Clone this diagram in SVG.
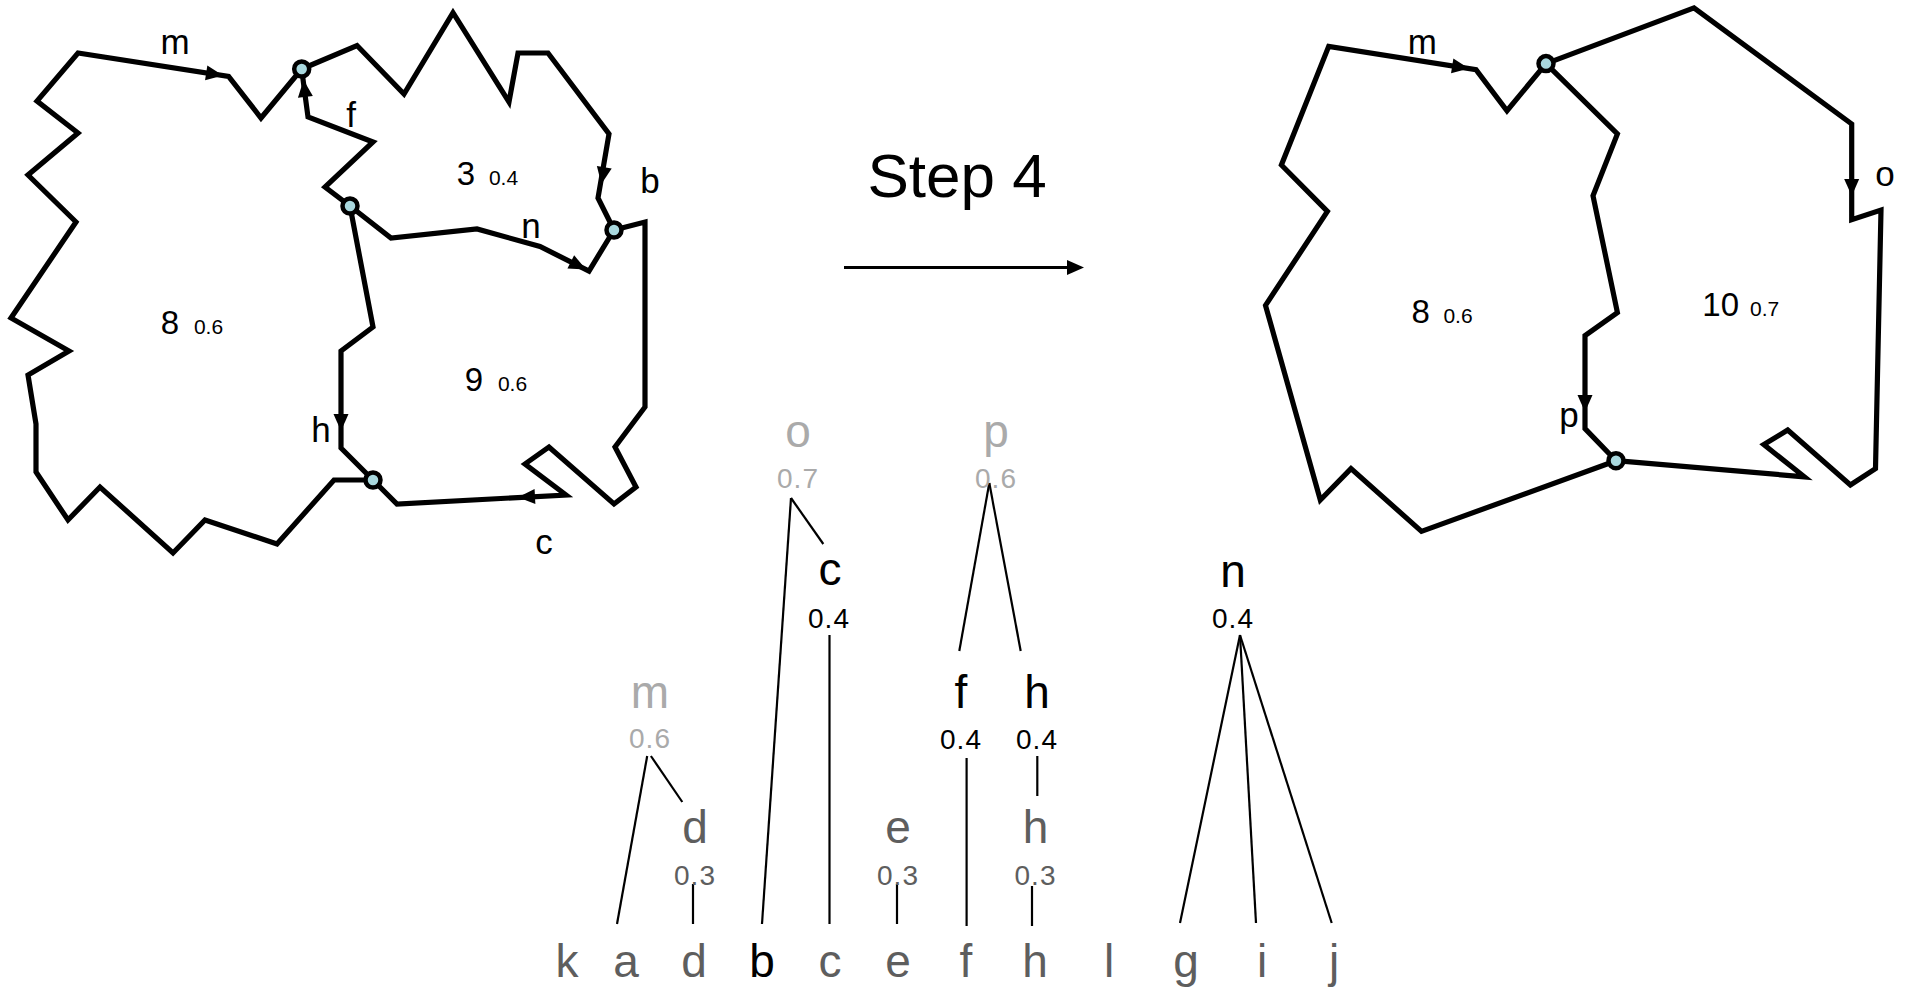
<svg xmlns="http://www.w3.org/2000/svg" xmlns:xlink="http://www.w3.org/1999/xlink" width="1907" height="990" viewBox="0 0 1907 990">
  <style>
    .edge { fill: none; stroke: #000; stroke-width: 5.2; stroke-linejoin: miter; stroke-miterlimit: 6; }
    .vtx { fill: #a9d8de; stroke: #000; stroke-width: 4.5; }
    .lbl { font-family: "Liberation Sans", Arial, sans-serif; fill: #000; text-anchor: middle; }
    .big { font-size: 33px; }
    .small { font-size: 21px; }
    .elbl { font-size: 35px; }
    .tree { stroke: #000; stroke-width: 2.2; fill: none; }
    .tl { font-family: "Liberation Sans", Arial, sans-serif; font-size: 46px; text-anchor: middle; }
    .tn { font-family: "Liberation Sans", Arial, sans-serif; font-size: 28px; text-anchor: middle; letter-spacing: 1px; }
    .faint { fill: #aaaaaa; }
    .mid { fill: #5e5e5e; }
    .dark { fill: #000; }
  </style>
  <defs>
    <path id="ah" d="M0,0 L-17,-7.5 L-17,7.5 Z" fill="#000"/>
  </defs>
  <rect width="1907" height="990" fill="#fff"/>

  <!-- Figure before the step: regions 8, 3 and 9 -->
  <g id="before">
    <g id="before-edges">
      <polyline class="edge" points="373,480 334,480 277,544 205,520 173,553 100,487 68,520 36,472 36,424 28,375 69,351 11,318 76,222 28,175 78,133 37,101 78,53 228.6,76.4 261,118 301.7,69"/>
      <polyline class="edge" points="301.7,69 357,45.5 404,94 453,12.7 509,102 518,53 548,53 609,134 598,198 614,230"/>
      <polyline class="edge" points="614,230 645,222 645,407 615,447 636,487 614,504 549,447 525,464 566,495 397,504 373,480"/>
      <polyline class="edge" points="373,480 341,448 341,351 373,327 350,206"/>
      <polyline class="edge" points="350,206 325,187 373,142 308,117 304,87 301.7,69"/>
      <polyline class="edge" points="350,206 391,238 477,229 540,246.5 589,271 614,230"/>
      <use href="#ah" transform="translate(223,75.5) rotate(8.8)"/>
      <use href="#ah" transform="translate(303.6,80) rotate(-96)"/>
      <use href="#ah" transform="translate(601.4,184) rotate(99.8)"/>
      <use href="#ah" transform="translate(586,269.5) rotate(26.6)"/>
      <use href="#ah" transform="translate(518,497.3) rotate(177)"/>
      <use href="#ah" transform="translate(341,431) rotate(90)"/>
    </g>
    <g id="before-vertices">
      <circle class="vtx" cx="301.7" cy="69" r="7.5"/>
      <circle class="vtx" cx="614" cy="230" r="7.5"/>
      <circle class="vtx" cx="350" cy="206" r="7.5"/>
      <circle class="vtx" cx="373" cy="480" r="7.5"/>
    </g>
    <g id="before-labels">
      <text class="lbl elbl" x="175" y="54">m</text>
      <text class="lbl elbl" x="351" y="127">f</text>
      <text class="lbl elbl" x="650" y="193">b</text>
      <text class="lbl elbl" x="531" y="238">n</text>
      <text class="lbl elbl" x="321" y="442">h</text>
      <text class="lbl elbl" x="544" y="554">c</text>
      <text class="lbl big" x="466" y="185">3</text>
      <text class="lbl small" x="503.5" y="185">0.4</text>
      <text class="lbl big" x="170" y="334">8</text>
      <text class="lbl small" x="208.5" y="334">0.6</text>
      <text class="lbl big" x="474" y="391">9</text>
      <text class="lbl small" x="512.5" y="391">0.6</text>
    </g>
  </g>

  <!-- Step arrow -->
  <g id="step">
    <text class="lbl" x="957" y="197" font-size="62">Step 4</text>
    <line x1="844" y1="267.5" x2="1070" y2="267.5" stroke="#000" stroke-width="3"/>
    <path d="M1067,260 L1084,267.5 L1067,275 Z" fill="#000"/>
  </g>

  <!-- Figure after the step: regions 8 and 10 -->
  <g id="after">
    <g id="after-edges">
      <polyline class="edge" points="1616,460.7 1421.5,531.4 1351,468.6 1320.3,500 1265.5,305.4 1327.4,211.4 1281.4,165 1328.7,46.4 1476,69.6 1507,110.7 1546,63.6"/>
      <polyline class="edge" points="1546,63.6 1694,7.9 1851.7,124 1851.7,219.6 1881,210 1875.5,468.6 1850.4,485 1787.7,430 1763.8,444.6 1804.4,476.8 1616,460.7"/>
      <polyline class="edge" points="1546,63.6 1617.4,134 1593,195.7 1617.4,312.5 1585,335.7 1585,428.6 1616,460.7"/>
      <use href="#ah" transform="translate(1469,68.6) rotate(8.95)"/>
      <use href="#ah" transform="translate(1851.7,196) rotate(90)"/>
      <use href="#ah" transform="translate(1585,412) rotate(90)"/>
    </g>
    <g id="after-vertices">
      <circle class="vtx" cx="1546" cy="63.6" r="7.5"/>
      <circle class="vtx" cx="1616" cy="460.7" r="7.5"/>
    </g>
    <g id="after-labels">
      <text class="lbl elbl" x="1422.4" y="53.5">m</text>
      <text class="lbl elbl" x="1885" y="186">o</text>
      <text class="lbl elbl" x="1569" y="427">p</text>
      <text class="lbl big" x="1420.7" y="323">8</text>
      <text class="lbl small" x="1458" y="323">0.6</text>
      <text class="lbl big" x="1720.7" y="316">10</text>
      <text class="lbl small" x="1764.6" y="316">0.7</text>
    </g>
  </g>

  <!-- Merge tree: links -->
  <g id="tree-links">
    <line class="tree" x1="791" y1="498" x2="762" y2="924"/>
    <line class="tree" x1="791" y1="498" x2="823.3" y2="544"/>
    <line class="tree" x1="829.5" y1="635" x2="829.5" y2="924"/>
    <line class="tree" x1="989.3" y1="483" x2="959.3" y2="651"/>
    <line class="tree" x1="989.3" y1="483" x2="1020.7" y2="651"/>
    <line class="tree" x1="647.2" y1="756" x2="617" y2="924"/>
    <line class="tree" x1="650.9" y1="756" x2="682.3" y2="802"/>
    <line class="tree" x1="693" y1="884" x2="693" y2="924"/>
    <line class="tree" x1="897" y1="884" x2="897" y2="924"/>
    <line class="tree" x1="966.6" y1="758" x2="966.6" y2="926"/>
    <line class="tree" x1="1037.3" y1="756" x2="1037.3" y2="796"/>
    <line class="tree" x1="1032" y1="886" x2="1032" y2="926"/>
    <line class="tree" x1="1240" y1="635" x2="1180" y2="923"/>
    <line class="tree" x1="1240" y1="635" x2="1256" y2="923"/>
    <line class="tree" x1="1240" y1="635" x2="1331.7" y2="923"/>
  </g>

  <!-- Merge tree: nodes -->
  <g id="node-o"><text class="tl faint" x="798" y="447">o</text><text class="tn faint" x="798" y="488">0.7</text></g>
  <g id="node-p"><text class="tl faint" x="996" y="447">p</text><text class="tn faint" x="996" y="488">0.6</text></g>
  <g id="node-c"><text class="tl dark" x="830" y="585">c</text><text class="tn dark" x="829" y="628">0.4</text></g>
  <g id="node-n"><text class="tl dark" x="1233" y="587">n</text><text class="tn dark" x="1233" y="628">0.4</text></g>
  <g id="node-m"><text class="tl faint" x="650" y="708">m</text><text class="tn faint" x="650" y="748">0.6</text></g>
  <g id="node-f"><text class="tl dark" x="961" y="708">f</text><text class="tn dark" x="961" y="749">0.4</text></g>
  <g id="node-h1"><text class="tl dark" x="1037" y="708">h</text><text class="tn dark" x="1037" y="749">0.4</text></g>
  <g id="node-d"><text class="tl mid" x="695" y="843">d</text><text class="tn mid" x="695" y="885">0.3</text></g>
  <g id="node-e"><text class="tl mid" x="898" y="843">e</text><text class="tn mid" x="898" y="885">0.3</text></g>
  <g id="node-h0"><text class="tl mid" x="1035.5" y="843">h</text><text class="tn mid" x="1035.5" y="885">0.3</text></g>

  <!-- Merge tree: leaves -->
  <g id="leaves">
    <text class="tl mid" x="567" y="977">k</text>
    <text class="tl mid" x="626" y="977">a</text>
    <text class="tl mid" x="694" y="977">d</text>
    <text class="tl dark" x="762" y="977">b</text>
    <text class="tl mid" x="830" y="977">c</text>
    <text class="tl mid" x="898" y="977">e</text>
    <text class="tl mid" x="966" y="977">f</text>
    <text class="tl mid" x="1035" y="977">h</text>
    <text class="tl mid" x="1109" y="977">l</text>
    <text class="tl mid" x="1186" y="977">g</text>
    <text class="tl mid" x="1262" y="977">i</text>
    <text class="tl mid" x="1334" y="977">j</text>
  </g>
</svg>
